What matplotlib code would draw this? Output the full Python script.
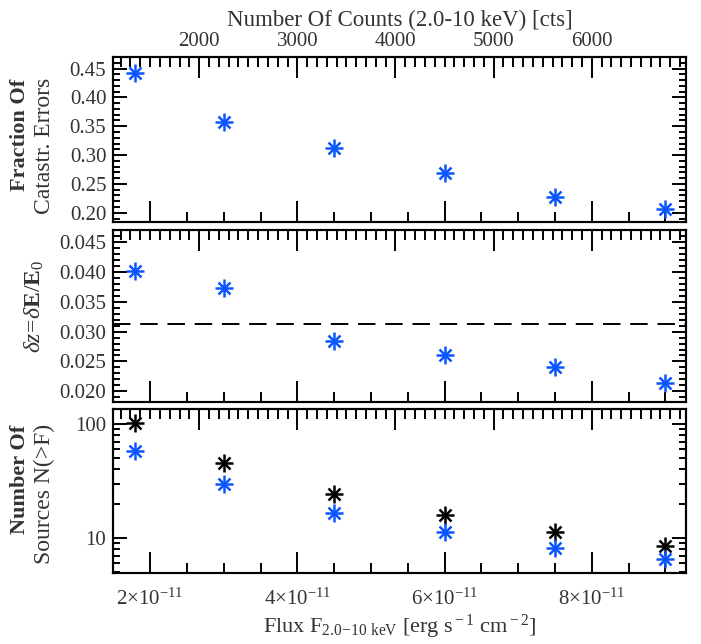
import numpy as np
import matplotlib.pyplot as plt
from matplotlib.ticker import MultipleLocator, FixedLocator, LogLocator, NullFormatter

plt.rcParams['font.family'] = ['Liberation Serif', 'DejaVu Serif']
plt.rcParams['mathtext.fontset'] = 'custom'
plt.rcParams['mathtext.rm'] = 'Liberation Serif'
plt.rcParams['mathtext.it'] = 'Liberation Serif:italic'
plt.rcParams['mathtext.bf'] = 'Liberation Serif:bold'

# flux in units of 1e-11 erg/s/cm2
flux = [1.8, 3.0, 4.5, 6.0, 7.5, 9.0]
frac_cat = [0.442, 0.357, 0.313, 0.269, 0.228, 0.207]
dz = [0.0401, 0.0373, 0.0285, 0.0260, 0.0240, 0.0214]
dz_ref = 0.0313
n_all = [102, 45.5, 24.6, 16.0, 11.2, 8.5]
n_good = [57.8, 29.6, 16.7, 11.4, 8.2, 6.5]
counts_per_flux = 750.0

flux_ticks = [2, 4, 6, 8]
flux_labels = [r'$2{\times}10^{-11}$', r'$4{\times}10^{-11}$',
               r'$6{\times}10^{-11}$', r'$8{\times}10^{-11}$']
count_ticks = [2000, 3000, 4000, 5000, 6000]

blue = '#0a55ff'
txt = '#333333'
xlim = (1.5, 9.28)
W, H = 701, 644


def box(top, bottom, left=113.3, right=686):
    return [left / W, 1 - bottom / H, (right - left) / W, (bottom - top) / H]


def star(ax, x, y, c):
    ax.plot(x, y, ls='none', marker='+', ms=12.5, mew=1.8, color=c)
    ax.plot(x, y, ls='none', marker='x', ms=9, mew=1.8, color=c)


fig = plt.figure(figsize=(7.01, 6.44), dpi=100)
ax1 = fig.add_axes(box(57, 222))
ax2 = fig.add_axes(box(230, 401.5))
ax3 = fig.add_axes(box(409.3, 573.3))

star(ax1, flux, frac_cat, blue)
ax1.set_ylim(0.184, 0.470)
ax1.yaxis.set_major_locator(MultipleLocator(0.05))
ax1.yaxis.set_minor_locator(MultipleLocator(0.01))
ax1.yaxis.set_major_formatter(plt.FormatStrFormatter('%.2f'))

star(ax2, flux, dz, blue)
ax2.axhline(dz_ref, color='black', lw=1.4, dashes=(9, 5))
ax2.set_ylim(0.0183, 0.0470)
ax2.yaxis.set_major_locator(MultipleLocator(0.005))
ax2.yaxis.set_minor_locator(MultipleLocator(0.001))
ax2.yaxis.set_major_formatter(plt.FormatStrFormatter('%.3f'))

star(ax3, flux, n_all, 'black')
star(ax3, flux, n_good, blue)
ax3.set_yscale('log')
ax3.set_ylim(4.9, 135)
ax3.yaxis.set_minor_locator(LogLocator(base=10, subs=np.arange(2, 10)))
ax3.yaxis.set_minor_formatter(NullFormatter())
ax3.set_yticks([10, 100])
ax3.set_yticklabels(['10', '100'])

for ax in [ax1, ax2, ax3]:
    ax.set_xlim(xlim)
    ax.xaxis.set_major_locator(FixedLocator(flux_ticks))
    ax.xaxis.set_minor_locator(MultipleLocator(0.5))
    if ax is ax3:
        ax.set_xticklabels(flux_labels)
    else:
        ax.set_xticklabels([])
    ax.tick_params(axis='both', which='both', direction='in', right=True, top=False,
                   labelsize=15, width=1.4, labelcolor=txt)
    ax.tick_params(axis='x', which='major', length=15, pad=11)
    ax.tick_params(axis='x', which='minor', length=7)
    ax.tick_params(axis='y', which='major', length=10, pad=5)
    ax.tick_params(axis='y', which='minor', length=5)
    for s in ax.spines.values():
        s.set_linewidth(1.5)

    tw = ax.twiny()
    tw.set_xlim(xlim[0] * counts_per_flux, xlim[1] * counts_per_flux)
    tw.xaxis.set_major_locator(FixedLocator(count_ticks))
    tw.xaxis.set_minor_locator(MultipleLocator(100))
    tw.tick_params(axis='x', which='both', direction='in', width=1.4, labelsize=15,
                   labelcolor=txt)
    tw.tick_params(axis='x', which='major', length=15, pad=4.5)
    tw.tick_params(axis='x', which='minor', length=7.5)
    if ax is ax1:
        tw.set_xticklabels([str(c) for c in count_ticks])
        tw.set_xlabel('Number Of Counts (2.0-10 keV) [cts]', fontsize=16.5,
                      labelpad=4, color=txt)
    else:
        tw.set_xticklabels([])
    for s in tw.spines.values():
        s.set_linewidth(1.5)

# y labels, two lines with ends aligned at the top
fig.text(20 / W, 1 - 79 / H, 'Fraction Of', rotation=90, ha='center', va='top',
         fontsize=16, fontweight='bold', color=txt)
fig.text(44 / W, 1 - 78 / H, 'Catastr. Errors', rotation=90, ha='center', va='top',
         fontsize=17, color=txt)
fig.text(34 / W, 1 - 306 / H, r'$\delta z\!=\!\delta\mathbf{E}/\mathbf{E}_0$', rotation=90,
         ha='center', va='center', fontsize=17, color=txt)
fig.text(20 / W, 1 - 425 / H, 'Number Of', rotation=90, ha='center', va='top',
         fontsize=16, fontweight='bold', color=txt)
fig.text(44 / W, 1 - 424 / H, 'Sources N(>F)', rotation=90, ha='center', va='top',
         fontsize=17, color=txt)

ax3.set_xlabel(r'Flux F$_{\rm 2.0\!-\!10\ keV}$ [erg s$^{\rm -1}$ cm$^{\rm -2}$]',
               fontsize=16, labelpad=2, color=txt)

fig.savefig('out.png', dpi=100)
